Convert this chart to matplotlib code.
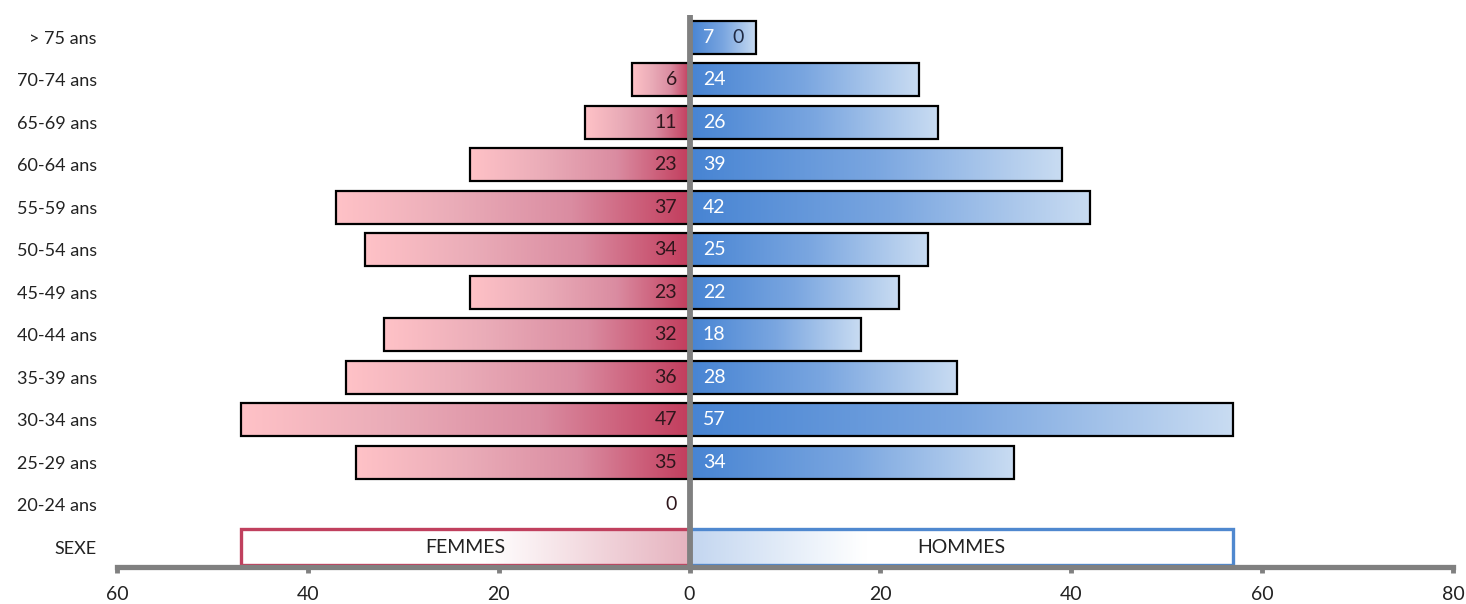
import numpy as np
import matplotlib
matplotlib.use("Agg")
import matplotlib.pyplot as plt
from matplotlib.colors import LinearSegmentedColormap
from matplotlib.patches import Rectangle

plt.rcParams['font.family'] = ['Lato', 'DejaVu Sans']

# tranches d'age, du bas vers le haut (SEXE = ligne d'en-tete)
ages = ['SEXE', '20-24 ans', '25-29 ans', '30-34 ans', '35-39 ans', '40-44 ans',
        '45-49 ans', '50-54 ans', '55-59 ans', '60-64 ans', '65-69 ans',
        '70-74 ans', '> 75 ans']
femmes = [None, 0, 35, 47, 36, 32, 23, 34, 37, 23, 11, 6, 0]
hommes = [None, None, 34, 57, 28, 18, 22, 25, 42, 39, 26, 24, 7]
total_femmes = 47
total_hommes = 57
xticks = [-60, -40, -20, 0, 20, 40, 60, 80]

GREY = '#808080'
ROSE = LinearSegmentedColormap.from_list('rose', ['#ffc2c7', '#eaacb8', '#da8ca1', '#c23d5d'])
BLEU = LinearSegmentedColormap.from_list('bleu', ['#4784d3', '#7aa6e0', '#c9dcf2'])
ROSE_HDR = LinearSegmentedColormap.from_list('rh', [(0, 'white'), (0.55, 'white'), (1, '#e6b3bf')])
BLEU_HDR = LinearSegmentedColormap.from_list('bh', [(0, '#c3d6f0'), (0.32, 'white'), (1, 'white')])

fig = plt.figure(figsize=(14.66, 6.04), dpi=100)
ax = fig.add_axes([0.0798, 0.0612, 0.9113, 0.9139])

grad = np.linspace(0, 1, 256).reshape(1, -1)


def gradient_bar(x0, x1, y, h, cmap, edge, lw, z=2):
    ax.imshow(grad, extent=(x0, x1, y - h / 2, y + h / 2), cmap=cmap,
              aspect='auto', interpolation='bicubic', zorder=z)
    ax.add_patch(Rectangle((x0, y - h / 2), x1 - x0, h, fill=False,
                           edgecolor=edge, lw=lw, zorder=z + 0.1,
                           joinstyle='miter'))


H = 0.78
for i, lab in enumerate(ages):
    f = femmes[i]
    m = hommes[i]
    if i == 0:
        continue
    if f:
        gradient_bar(-f, 0, i, H, ROSE, 'black', 1.6)
    if m:
        gradient_bar(0, m, i, H, BLEU, 'black', 1.6)
    if f is not None:
        if lab == '> 75 ans':
            # l'etiquette 0 est decalee dans la barre des hommes
            ax.text(4.5, i, str(f), ha='left', va='center', fontsize=14,
                    color='#1f2a44', zorder=5)
        else:
            ax.text(-1.3, i, str(f), ha='right', va='center', fontsize=14,
                    color='#2e161c', zorder=5)
    if m:
        ax.text(1.4, i, str(m), ha='left', va='center', fontsize=14,
                color='white', zorder=5)

# ligne SEXE
Hh = 0.84
gradient_bar(-total_femmes, 0, 0, Hh, ROSE_HDR, '#c0405e', 2.4)
gradient_bar(0, total_hommes, 0, Hh, BLEU_HDR, '#4f88cf', 2.4)
ax.text(-total_femmes / 2, 0, 'FEMMES', ha='center', va='center', fontsize=14, color='#222222', zorder=5)
ax.text(total_hommes / 2, 0, 'HOMMES', ha='center', va='center', fontsize=14, color='#222222', zorder=5)

# axe central
ax.plot([0, 0], [-0.47, 12.52], color=GREY, lw=4.2, zorder=4, solid_capstyle='butt')

ax.set_xlim(-60, 80)
ax.set_ylim(-0.47, 12.52)
ax.set_yticks(range(len(ages)))
ax.set_yticklabels(ages, fontsize=13, color='#222222')
ax.tick_params(axis='y', length=0, pad=14.5)
ax.set_xticks(xticks)
ax.set_xticklabels([str(abs(v)) for v in xticks], fontsize=14, color='#222222')
ax.tick_params(axis='x', length=4, width=3.5, color=GREY, pad=10)
for s in ['top', 'right', 'left']:
    ax.spines[s].set_visible(False)
ax.spines['bottom'].set_color(GREY)
ax.spines['bottom'].set_linewidth(3.8)
ax.spines['bottom'].set_zorder(4)

fig.savefig('out.png', dpi=100)
